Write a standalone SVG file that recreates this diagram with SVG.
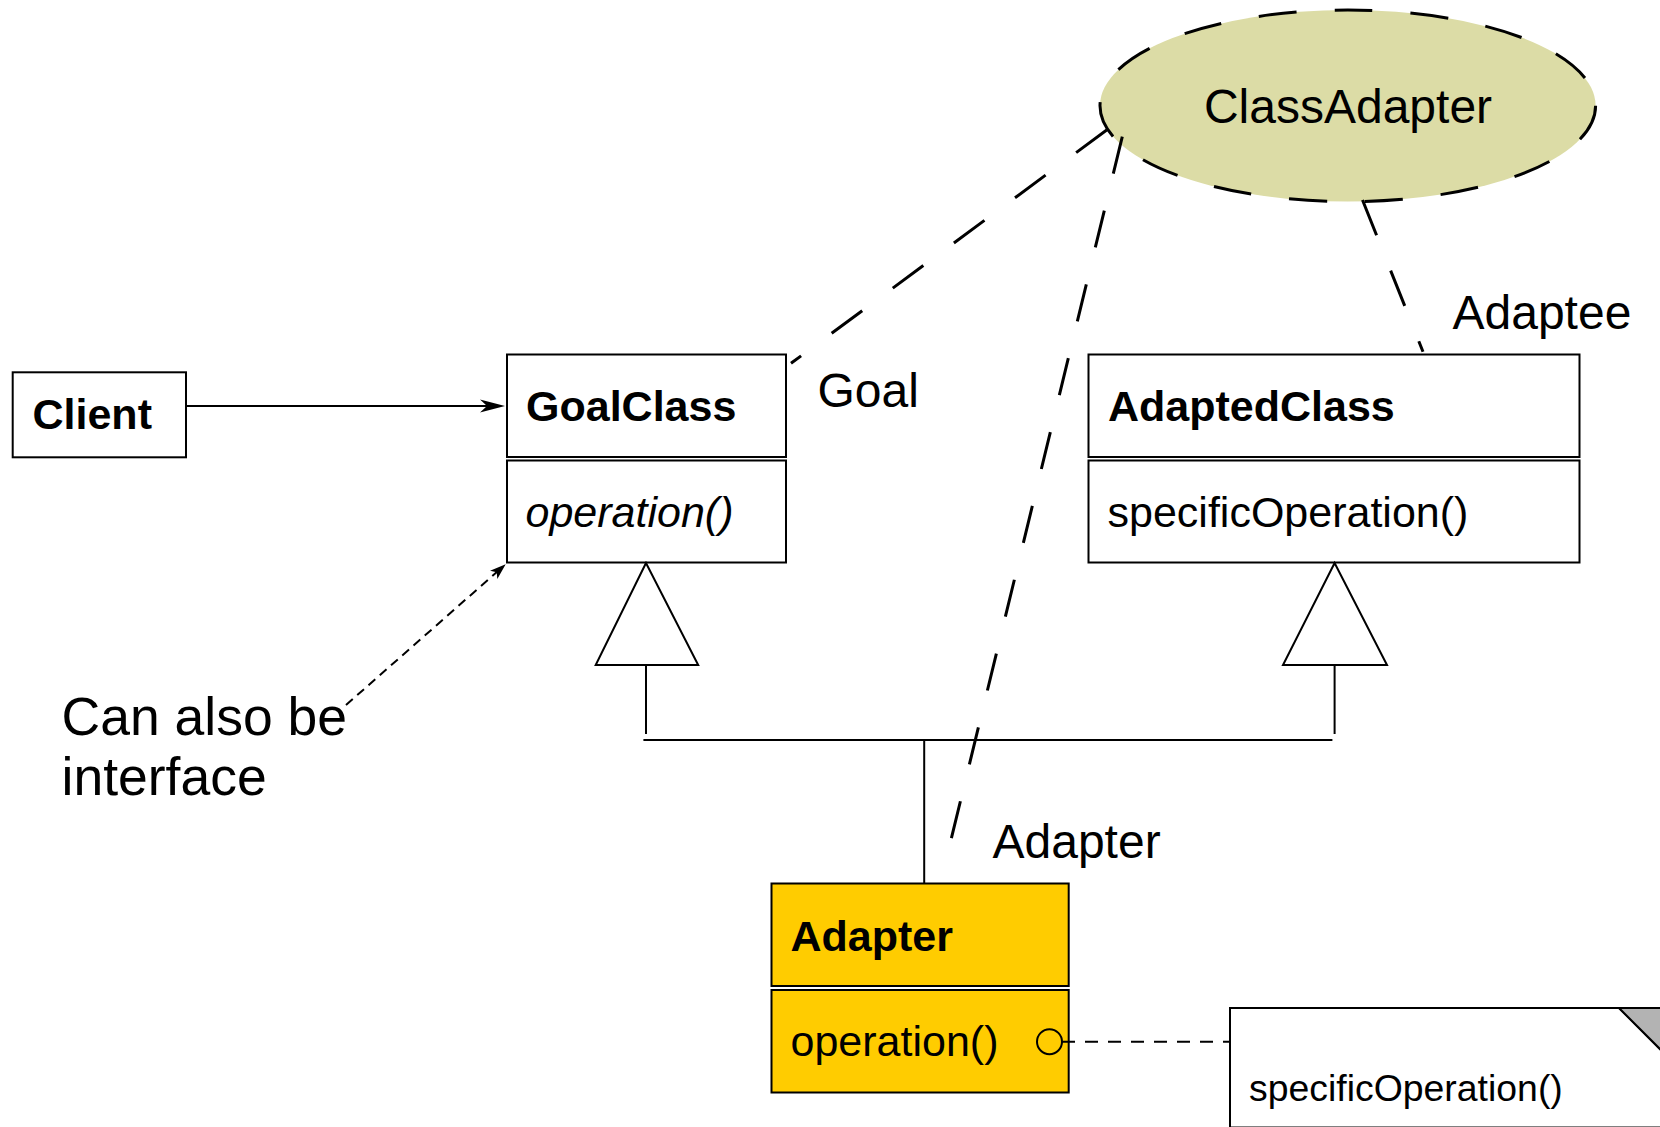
<svg xmlns="http://www.w3.org/2000/svg" width="1660" height="1127" viewBox="0 0 1660 1127">
<defs>
<style>
.box{fill:#fff;stroke:#000;stroke-width:2}
.yel{fill:#ffcc00;stroke:#000;stroke-width:2}
.t{font-family:"Liberation Sans",Arial,sans-serif;fill:#000}
.cls{font-size:43px;font-weight:bold}
.op{font-size:43px}
.lab{font-size:48px}
.ln{fill:none;stroke:#000;stroke-width:2}
.dash{fill:none;stroke:#000;stroke-width:3;stroke-dasharray:38 38}
</style>
<marker id="arr" markerUnits="userSpaceOnUse" markerWidth="40" markerHeight="20" viewBox="-30 -10 40 20" refX="0" refY="0" orient="auto">
<path d="M4,0 L-21,-6.5 L-14,0 L-21,6.5 Z" fill="#000"/>
</marker>
<marker id="arr2" markerUnits="userSpaceOnUse" markerWidth="30" markerHeight="20" viewBox="-20 -10 30 20" refX="0" refY="0" orient="auto">
<path d="M4,0 L-12,-5.5 L-8,0 L-12,5.5 Z" fill="#000"/>
</marker>
</defs>
<rect width="1660" height="1127" fill="#fff"/>

<g id="classadapter">
<ellipse cx="1347.8" cy="105.8" rx="247.8" ry="95.8" fill="#dcdca6" stroke="#000" stroke-width="3" stroke-dasharray="38 38"/>
<text class="t lab" x="1348" y="123" text-anchor="middle">ClassAdapter</text>
</g>

<g id="client">
<rect class="box" x="12.7" y="372.3" width="173.3" height="85"/>
<text class="t cls" x="32.5" y="429">Client</text>
</g>

<g id="goalclass">
<rect class="box" x="507" y="354.5" width="279" height="102.5"/>
<rect class="box" x="507" y="460.5" width="279" height="102"/>
<text class="t cls" x="526" y="420.5">GoalClass</text>
<text class="t op" x="525.5" y="526.5" font-style="italic">operation()</text>
</g>

<g id="adaptedclass">
<rect class="box" x="1088.5" y="354.5" width="491" height="102.5"/>
<rect class="box" x="1088.5" y="460.5" width="491" height="102"/>
<text class="t cls" x="1108" y="420.5">AdaptedClass</text>
<text class="t op" x="1107.5" y="526.5">specificOperation()</text>
</g>

<g id="adapter">
<rect class="yel" x="771.5" y="883.5" width="297.2" height="102.5"/>
<rect class="yel" x="771.5" y="990" width="297.2" height="102.5"/>
<text class="t cls" x="790.5" y="950.5">Adapter</text>
<text class="t op" x="790.5" y="1055.5">operation()</text>
<circle cx="1049.5" cy="1041.7" r="12.5" fill="none" stroke="#000" stroke-width="2"/>
</g>

<g id="note">
<path d="M1230,1127.6 V1008 H1619 L1670,1059 V1127.6 Z" fill="#fff" stroke="#000" stroke-width="2"/>
<path d="M1619,1008 L1670,1008 L1670,1059 Z" fill="#b3b3b3" stroke="#000" stroke-width="2"/>
<text class="t" x="1249" y="1100.5" font-size="37.4px">specificOperation()</text>
</g>

<g id="labels">
<text class="t lab" x="817.5" y="406.5">Goal</text>
<text class="t lab" x="1452.5" y="328.5">Adaptee</text>
<text class="t lab" x="992.5" y="857.5">Adapter</text>
<text class="t" x="61.5" y="735" font-size="53.5px">Can also be</text>
<text class="t" x="61.5" y="795" font-size="53.5px">interface</text>
</g>

<g id="connectors">
<line class="ln" x1="186" y1="406" x2="501" y2="406" marker-end="url(#arr)"/>
<line class="ln" x1="346" y1="705" x2="502.7" y2="566.9" stroke-dasharray="9 6" marker-end="url(#arr2)"/>
<polygon class="box" points="646,563 595.7,665 698.2,665"/>
<polygon class="box" points="1334.6,563 1283,665 1387,665"/>
<line class="ln" x1="646" y1="665" x2="646" y2="734"/>
<line class="ln" x1="1334.6" y1="665" x2="1334.6" y2="734"/>
<line class="ln" x1="643.4" y1="740" x2="1332.4" y2="740"/>
<line class="ln" x1="924.2" y1="740" x2="924.2" y2="884"/>
<line class="ln" x1="1062" y1="1041.7" x2="1229" y2="1041.7" stroke-dasharray="13 10"/>
<line class="dash" x1="1106.7" y1="130" x2="791" y2="363.3"/>
<line class="dash" x1="1122.3" y1="136.7" x2="949.5" y2="846"/>
<line class="dash" x1="1362.5" y1="200" x2="1423" y2="351.7"/>
</g>
</svg>
